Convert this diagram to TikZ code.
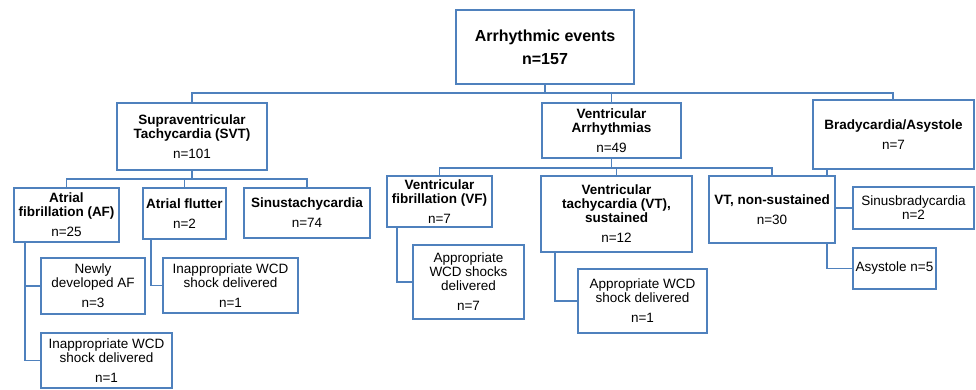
\documentclass[tikz,border=0pt]{standalone}
\usepackage{fontspec}
\setmainfont{Liberation Sans}
\usepackage{tikz}
\usetikzlibrary{backgrounds}
\definecolor{frameblue}{RGB}{79,129,189}

\begin{document}
\begin{tikzpicture}[x=1pt, y=-1pt,
  box/.style={draw=frameblue, line width=1.5pt, fill=white, align=center, inner sep=0pt,
    font=\fontsize{13.5}{14}\selectfont},
  link/.style={draw=frameblue, line width=1.6pt}]
  \useasboundingbox (0,0) rectangle (976,389);
  % top level
  \node[box, minimum width=178, minimum height=74, font=\fontsize{16}{19}\selectfont] (events) at (545,47)
    {\textbf{Arrhythmic events}\\[4pt]\textbf{n=157}};
  \node[box, minimum width=150, minimum height=67] (svt) at (192,136.5)
    {\textbf{Supraventricular}\\\textbf{Tachycardia (SVT)}\\[6pt]n=101};
  \node[box, minimum width=139, minimum height=55] (va) at (611.5,130.5)
    {\textbf{Ventricular}\\\textbf{Arrhythmias}\\[6pt]n=49};
  \node[box, minimum width=161, minimum height=69] (brady) at (893.5,134.5)
    {\textbf{Bradycardia/Asystole}\\[6pt]n=7};
  % SVT branch
  \node[box, minimum width=105, minimum height=54] (af) at (66.5,215)
    {\textbf{Atrial}\\\textbf{fibrillation (AF)}\\[6pt]n=25};
  \node[box, minimum width=83, minimum height=51] (flutter) at (184.5,213.5)
    {\textbf{Atrial flutter}\\[6pt]n=2};
  \node[box, minimum width=126, minimum height=50] (sinustachy) at (307,213)
    {\textbf{Sinustachycardia}\\[6pt]n=74};
  \node[box, minimum width=104, minimum height=56] (newaf) at (93,286)
    {Newly\\developed AF\\[6pt]n=3};
  \node[box, minimum width=131, minimum height=55] (afshock) at (106.5,360.5)
    {Inappropriate WCD\\shock delivered\\[6pt]n=1};
  \node[box, minimum width=135, minimum height=55] (flshock) at (230.5,285.5)
    {Inappropriate WCD\\shock delivered\\[6pt]n=1};
  % ventricular branch
  \node[box, minimum width=105, minimum height=51] (vf) at (439.5,201.5)
    {\textbf{Ventricular}\\\textbf{fibrillation (VF)}\\[6pt]n=7};
  \node[box, minimum width=151, minimum height=76] (vtsus) at (616.5,214)
    {\textbf{Ventricular}\\\textbf{tachycardia (VT),}\\\textbf{sustained}\\[6pt]n=12};
  \node[box, minimum width=126, minimum height=67] (vtnon) at (772,209.5)
    {\textbf{VT, non-sustained}\\[6pt]n=30};
  \node[box, minimum width=111, minimum height=74] (vfshock) at (468.5,282)
    {Appropriate\\WCD shocks\\delivered\\[6pt]n=7};
  \node[box, minimum width=129, minimum height=64] (vtshock) at (642.5,301)
    {Appropriate WCD\\shock delivered\\[6pt]n=1};
  % bradycardia branch
  \node[box, minimum width=121, minimum height=42] (sinusbrady) at (913.5,208)
    {Sinusbradycardia\\n=2};
  \node[box, minimum width=83, minimum height=41] (asystole) at (894.5,268.5)
    {Asystole n=5};

  \begin{scope}[on background layer]
    \draw[link] (events.south) -- ++(0,8) -| (svt.north);
    \draw[link] (events.south) -- ++(0,8) -| (va.north);
    \draw[link] (events.south) -- ++(0,8) -| ([xshift=-0.5pt]brady.north);
    \draw[link] (svt.south) -- ++(0,8) -| (af.north);
    \draw[link] (svt.south) -- ++(0,8) -| (flutter.north);
    \draw[link] (svt.south) -- ++(0,8) -| (sinustachy.north);
    \draw[link] (va.south) -- ++(0,9) -| (vf.north);
    \draw[link] (va.south) -- ++(0,9) -| (vtsus.north);
    \draw[link] (va.south) -- ++(0,9) -| (vtnon.north);
    \draw[link] ([xshift=12pt]af.south west) |- (newaf.west);
    \draw[link] ([xshift=12pt]af.south west) |- (afshock.west);
    \draw[link] ([xshift=9pt]flutter.south west) |- (flshock.west);
    \draw[link] ([xshift=11pt]vf.south west) |- (vfshock.west);
    \draw[link] ([xshift=15pt]vtsus.south west) |- (vtshock.west);
    \draw[link] ([xshift=15pt]brady.south west) |- (sinusbrady.west);
    \draw[link] ([xshift=15pt]brady.south west) |- (asystole.west);
  \end{scope}
\end{tikzpicture}
\end{document}
